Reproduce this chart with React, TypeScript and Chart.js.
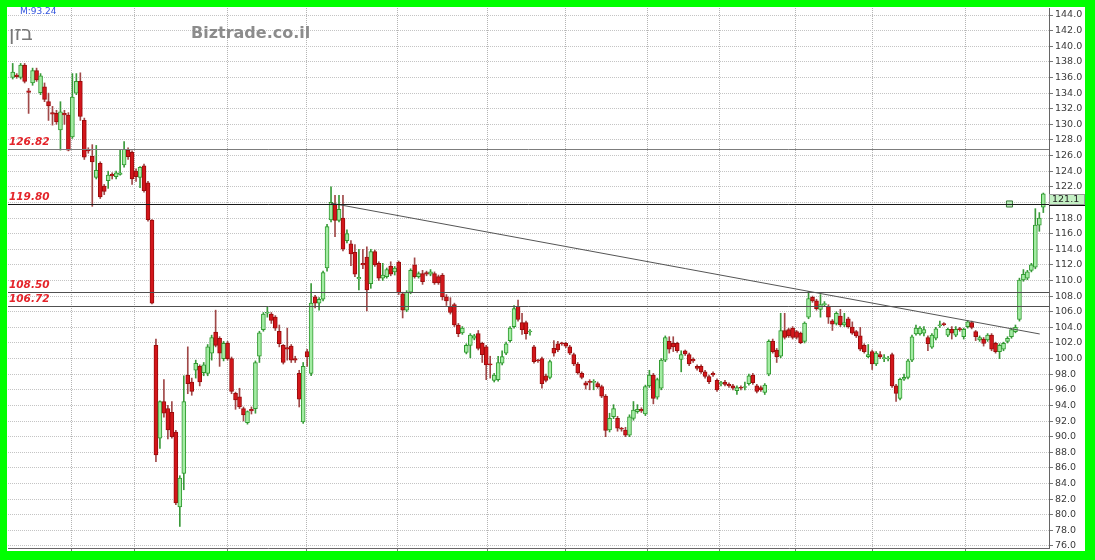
import React, { useEffect, useRef } from "react";
import { Chart, registerables } from "chart.js";
Chart.register(...registerables);

// ---- data (daily OHLC, oldest first) ----
const opens = [
  136.0,136.3,136.0,137.6,134.3,135.3,136.9,134.05,134.8,132.9,131.5,131.4,129.3,131.4,131.2,128.4,134.0,135.5,130.5,126.8,
  125.9,123.2,125.0,122.1,122.8,123.6,123.3,123.6,124.8,126.7,126.4,124.0,123.2,124.7,122.5,117.75,101.7,89.8,94.5,93.6,
  93.1,90.6,81.0,85.3,97.9,97.0,98.5,99.0,98.2,98.1,100.7,103.4,102.6,100.0,102.0,100.0,95.55,95.1,93.6,91.8,
  93.5,93.6,100.3,103.7,105.8,105.7,105.3,103.5,101.7,101.4,101.6,100.0,98.1,91.9,100.9,98.1,107.9,107.1,107.6,111.6,
  117.75,119.8,117.7,118.0,115.1,114.7,113.6,110.2,112.2,113.0,109.6,113.7,112.2,110.3,110.5,111.85,111.1,112.35,108.3,106.2,
  108.5,112.0,110.5,110.9,111.0,110.8,110.9,110.5,110.7,107.9,106.7,106.9,104.3,103.3,100.8,101.7,102.6,103.2,101.95,101.5,
  99.3,97.2,97.3,99.4,100.7,102.3,104.1,106.7,104.6,104.6,103.4,101.5,99.8,100.0,97.8,97.6,101.3,101.9,102.0,101.95,
  101.5,100.5,99.3,98.1,96.9,97.0,96.95,96.8,96.4,95.2,90.85,92.55,92.35,91.0,90.85,90.2,92.35,93.2,93.5,92.9,
  96.5,97.9,95.05,96.2,99.8,102.2,101.95,101.95,99.9,101.0,100.5,99.9,99.0,99.0,98.3,97.7,98.1,97.2,96.8,97.0,
  96.7,96.5,95.9,96.3,96.3,96.8,97.9,96.5,96.3,95.65,98.0,102.25,101.1,100.3,103.6,103.7,103.9,103.45,103.25,102.2,
  105.3,107.85,107.4,106.3,106.9,106.7,104.85,104.5,105.45,104.3,105.1,104.05,103.45,102.9,101.7,100.25,100.9,99.3,100.5,100.0,
  99.95,100.5,96.5,94.9,97.35,97.6,99.8,103.15,103.15,103.25,102.7,101.45,102.6,104.2,104.45,103.0,103.75,103.0,103.8,102.8,
  104.1,104.6,103.45,102.4,102.5,102.4,103.0,101.95,100.9,101.2,102.2,102.8,103.45,105.0,110.06,110.3,111.3,111.7,117.1,119.4
];
const highs = [
  137.8,136.5,137.8,137.8,134.6,137.2,137.2,136.5,135.3,134.0,132.3,131.8,132.9,131.8,131.5,136.5,136.5,136.6,130.8,127.0,
  127.4,127.3,125.2,122.3,124.0,123.8,124.0,126.7,127.8,127.0,126.6,124.3,124.6,124.9,122.7,117.8,102.5,94.6,97.3,94.0,
  94.5,90.8,85.0,97.8,101.5,97.5,99.8,99.2,99.5,101.8,103.0,106.2,102.8,102.2,102.2,100.2,95.7,96.2,93.8,93.3,
  93.8,99.7,103.5,105.9,106.6,105.9,105.5,104.3,101.8,103.9,101.8,100.3,98.5,99.5,101.2,109.6,108.1,107.8,111.2,117.2,
  122.0,120.9,120.9,120.9,116.5,115.1,114.6,114.0,114.0,114.3,114.0,113.9,112.4,112.2,111.6,112.4,111.8,112.5,108.5,108.7,
  111.5,112.9,111.1,111.3,111.2,111.4,111.1,110.7,110.9,108.2,107.8,107.1,104.5,104.1,101.9,103.2,103.1,103.6,102.1,101.7,
  100.3,98.1,100.3,101.0,102.1,104.1,106.8,107.5,105.8,104.8,103.7,101.7,99.9,100.2,98.0,99.8,102.3,102.2,102.1,102.1,
  101.7,100.7,99.5,98.3,97.1,97.3,97.3,97.0,96.6,95.4,93.0,94.1,92.6,91.2,91.2,92.8,94.5,94.1,93.7,96.6,
  98.5,98.1,97.5,100.0,102.9,102.8,102.8,102.1,101.0,101.1,100.7,100.1,99.2,99.2,98.5,97.9,98.3,97.4,97.1,97.2,
  96.9,96.7,96.5,96.5,97.0,98.0,98.1,96.7,96.5,96.8,102.4,102.5,101.3,105.8,105.8,103.9,104.1,103.6,103.4,104.7,
  108.6,108.0,107.6,108.2,107.3,106.9,105.0,106.0,106.3,105.8,105.3,104.7,103.6,104.0,101.9,101.8,101.1,100.9,100.9,100.5,
  100.3,100.7,96.7,97.5,98.0,99.9,103.0,104.3,104.1,104.1,102.9,103.2,104.0,104.8,104.6,103.9,104.1,104.1,104.0,103.9,
  104.9,104.8,103.6,102.9,102.7,103.2,103.2,102.1,101.9,102.1,102.8,103.9,104.3,110.3,111.4,111.3,112.2,119.2,118.7,121.2
];
const lows = [
  135.8,135.9,135.8,135.3,131.4,135.0,135.5,133.8,132.9,130.5,129.9,130.0,126.7,130.0,126.6,128.2,133.8,130.5,125.5,126.3,
  119.5,123.0,120.5,121.0,121.8,123.0,123.0,123.5,124.5,125.5,122.3,122.7,121.9,121.3,117.6,107.0,86.8,88.5,92.5,89.7,
  89.8,81.3,78.5,83.2,95.5,95.3,97.5,96.5,97.8,97.8,99.8,101.5,99.0,99.7,99.8,95.5,93.5,93.6,92.0,91.6,
  92.9,93.0,99.5,103.5,105.3,104.5,103.6,101.5,99.3,99.8,99.5,99.5,93.8,91.7,99.0,97.8,106.5,106.2,107.4,111.2,
  117.5,115.6,117.5,113.8,114.8,111.9,110.5,108.8,111.5,106.1,109.0,111.8,110.0,110.0,110.3,110.6,110.7,108.2,105.2,106.0,
  108.3,110.3,110.3,109.5,110.6,110.6,109.5,109.5,107.5,106.8,105.7,104.1,102.8,103.1,100.6,100.1,102.4,101.1,99.5,97.3,
  97.5,97.0,97.1,99.2,100.5,102.1,103.9,104.8,103.1,102.5,103.0,99.4,99.5,96.2,97.0,97.4,100.3,100.9,101.7,101.4,
  100.5,99.1,98.0,97.4,96.1,96.0,96.0,96.2,95.0,90.0,90.6,92.3,90.7,90.7,90.0,90.0,92.1,93.0,93.1,92.7,
  96.3,94.2,94.8,96.0,99.6,100.7,100.9,100.8,98.3,100.4,99.1,99.5,98.5,98.1,97.5,96.8,97.7,95.8,96.5,96.5,
  96.3,96.0,95.4,96.0,96.0,96.6,96.7,95.6,95.8,95.4,97.8,100.7,99.5,100.1,102.5,102.7,102.5,102.5,101.9,102.0,
  105.1,107.2,106.2,105.3,106.7,104.5,103.6,104.3,104.1,104.1,103.9,103.1,102.7,101.0,100.7,100.1,98.6,99.1,100.0,99.6,
  99.7,96.3,94.5,94.7,97.2,97.4,99.6,103.0,103.0,102.9,101.0,101.3,102.4,104.0,104.2,102.8,102.5,102.8,103.5,102.5,
  103.9,103.8,102.3,102.2,101.6,102.2,101.0,100.7,100.0,101.0,102.0,102.6,103.3,104.8,109.9,110.1,111.1,111.5,116.3,118.7
];
const closes = [
  136.7,136.1,137.6,135.5,134.1,136.9,135.7,136.2,133.2,132.35,131.3,130.3,131.6,131.2,126.7,133.5,135.5,131.0,125.8,126.6,
  125.2,124.1,120.7,121.4,123.5,123.4,123.8,123.8,126.8,125.85,123.0,123.3,124.5,121.5,117.8,107.1,87.65,94.5,93.0,90.85,
  90.0,81.5,84.7,94.5,96.8,95.8,99.4,97.0,99.2,101.5,102.7,101.7,100.7,101.95,100.0,95.8,94.7,93.8,92.8,93.2,
  93.3,99.5,103.3,105.7,105.9,104.9,103.9,101.9,99.5,101.2,99.8,99.8,94.8,99.0,100.2,107.1,107.1,107.6,111.0,116.9,
  120.0,117.7,119.1,114.0,116.0,113.4,110.8,110.4,112.0,108.8,113.7,112.0,110.3,110.7,111.4,110.8,111.6,108.4,106.2,108.5,
  111.3,110.5,110.9,109.85,110.8,111.1,109.7,109.7,107.9,107.4,105.9,104.3,103.2,103.9,101.7,103.0,102.9,101.3,100.5,99.2,
  99.2,97.9,99.5,100.25,101.9,103.9,106.4,105.0,103.7,103.2,103.4,99.6,99.7,96.8,97.2,99.6,100.7,101.1,101.9,101.6,
  100.7,99.3,98.2,97.6,96.6,96.95,97.0,96.4,95.2,90.8,92.35,93.6,91.1,90.95,90.2,92.55,93.4,93.5,93.3,96.4,
  97.9,94.9,97.3,99.8,102.7,101.2,101.5,101.0,100.5,100.6,99.3,99.7,98.75,98.3,97.7,97.05,97.9,96.0,96.8,96.7,
  96.5,96.2,96.3,96.2,96.3,97.8,96.9,95.8,96.0,96.6,102.2,100.9,100.2,103.6,102.7,102.9,102.7,102.7,102.05,104.55,
  107.7,107.4,106.4,106.9,107.0,105.3,104.4,105.8,104.3,104.6,104.1,103.25,102.9,101.2,100.9,100.5,99.3,100.7,100.2,100.05,
  100.0,96.5,95.55,97.35,97.6,99.7,102.8,103.9,103.9,103.7,101.9,103.0,103.8,104.3,104.35,103.75,103.25,103.75,103.7,103.75,
  104.7,104.0,102.8,102.7,101.95,103.0,101.2,100.9,101.7,101.95,102.6,103.7,104.0,110.06,110.8,111.1,112.0,117.1,118.0,121.1
];

// month boundaries (in trading-day index units)
const monthBounds = [14.9, 30.7, 54.1, 73.9, 96.8, 119.2, 139.0, 159.6, 177.7, 196.6, 216.1, 239.5];

// horizontal support / resistance levels
const levelValues = [126.82, 119.8, 108.5, 106.72];
const levelLabels = ["126.82", "119.80", "108.50", "106.72"];

// trend line (index, price)
const trendX = [80, 258.1];
const trendY = [119.9, 103.15];

// alert marker
const markerX = [250.5];
const markerY = [119.8];

const lastPrice = 121.1;
const lastPriceLabel = "121.1";
const yTicks: number[] = [];
for (let v = 76; v <= 144; v += 2) yTicks.push(v);

const symbolName = "בזן";
const siteName = "Biztrade.co.il";
const topNote = "M:93.24";

export default function App() {
  const ref = useRef<HTMLCanvasElement>(null);

  useEffect(() => {
    const canvas = ref.current;
    if (!canvas) return;
    const X_MIN = -1.18;
    const X_MAX = 260.43;
    const Y_MIN = 75.74;
    const Y_MAX = 144.9;

    const up = closes.map((c, i) => c >= opens[i]);
    const bodyFill = up.map((u) => (u ? "#a3eca3" : "#d3161b"));
    const bodyBorder = up.map((u) => (u ? "#2f9a2f" : "#9a0c0c"));
    const wickColor = up.map((u) => (u ? "#3a9a3a" : "#a04848"));
    const levelColors = ["#7c7c7c", "#1a1a1a", "#505050", "#505050"];

    const framePlugin = {
      id: "frame",
      beforeDraw(chart: any) {
        const ctx = chart.ctx;
        ctx.save();
        ctx.fillStyle = "#00ff00";
        ctx.fillRect(0, 0, chart.width, chart.height);
        ctx.fillStyle = "#ffffff";
        ctx.fillRect(7, 7, 1085 - 7, 551 - 7);
        ctx.restore();
      },
      afterDatasetsDraw(chart: any) {
        const ctx = chart.ctx;
        const ys = chart.scales.y;
        const area = chart.chartArea;
        ctx.save();
        ctx.lineWidth = 1;
        levelValues.forEach((v, i) => {
          const y = Math.round(ys.getPixelForValue(v)) + 0.5;
          ctx.strokeStyle = levelColors[i];
          ctx.beginPath();
          ctx.moveTo(area.left, y);
          ctx.lineTo(area.right, y);
          ctx.stroke();
        });
        ctx.restore();
      },
      afterDraw(chart: any) {
        const ctx = chart.ctx;
        const ys = chart.scales.y;
        const area = chart.chartArea;
        ctx.save();
        // level labels
        ctx.font = "italic bold 10.5px 'DejaVu Sans'";
        ctx.fillStyle = "#e4242a";
        ctx.textBaseline = "alphabetic";
        ctx.textAlign = "left";
        levelValues.forEach((v, i) => {
          const y = Math.round(ys.getPixelForValue(v));
          ctx.fillText(levelLabels[i], 9, y - 4);
        });
        // last price box
        const py = Math.round(ys.getPixelForValue(lastPrice));
        ctx.fillStyle = "#c4f0c4";
        ctx.fillRect(area.right, py, 1085 - area.right, 11);
        ctx.strokeStyle = "#9a9a9a";
        ctx.lineWidth = 1;
        ctx.strokeRect(area.right + 0.5, py + 0.5, 1085 - area.right - 1, 10);
        ctx.strokeStyle = "#111";
        ctx.beginPath();
        ctx.moveTo(area.right, py + 11.5);
        ctx.lineTo(1085, py + 11.5);
        ctx.stroke();
        ctx.fillStyle = "#222";
        ctx.font = "9.5px 'DejaVu Sans'";
        ctx.textBaseline = "middle";
        ctx.fillText(lastPriceLabel, area.right + 3, py + 6);
        // header texts
        ctx.beginPath();
        ctx.rect(7, 7, 1078, 544);
        ctx.clip();
        ctx.textBaseline = "alphabetic";
        ctx.font = "9px 'DejaVu Sans'";
        ctx.fillStyle = "#3355dd";
        ctx.fillText(topNote, 20, 14);
        ctx.font = "20px 'DejaVu Sans'";
        ctx.fillStyle = "#777777";
        ctx.fillText(symbolName, 9, 40);
        ctx.font = "bold 16px 'DejaVu Sans'";
        ctx.fillStyle = "#8c8c8c";
        ctx.fillText(siteName, 191, 38);
        ctx.restore();
      },
    };

    const chart = new Chart(canvas, {
      type: "bar",
      data: {
        datasets: [
          {
            type: "line",
            data: trendX.map((x, i) => ({ x, y: trendY[i] })),
            borderColor: "#555555",
            borderWidth: 1,
            pointRadius: 0,
          } as any,
          {
            type: "line",
            data: markerX.map((x, i) => ({ x, y: markerY[i] })),
            showLine: false,
            pointStyle: "rect",
            pointRadius: 4.3,
            backgroundColor: "#b8ecb8",
            borderColor: "#3a7a3a",
            borderWidth: 1,
          } as any,
          {
            type: "bar",
            data: opens.map((o, i) => ({ x: i, y: [o, closes[i]] })),
            backgroundColor: bodyFill,
            borderColor: bodyBorder,
            borderWidth: 1,
            borderSkipped: false,
            barThickness: 4,
            minBarLength: 1,
            grouped: false,
          } as any,
          {
            type: "bar",
            data: lows.map((l, i) => ({ x: i, y: [l, highs[i]] })),
            backgroundColor: wickColor,
            borderWidth: 0,
            barThickness: 1,
            minBarLength: 1,
            grouped: false,
          } as any,
        ],
      },
      options: {
        responsive: false,
        animation: false,
        devicePixelRatio: 1,
        layout: { padding: { left: 8, top: 8, right: 10, bottom: 9 } },
        plugins: { legend: { display: false }, tooltip: { enabled: false } },
        scales: {
          x: {
            type: "linear",
            min: X_MIN,
            max: X_MAX,
            offset: false,
            afterBuildTicks: (s: any) => {
              s.ticks = monthBounds.map((v) => ({ value: v }));
            },
            afterFit: (s: any) => {
              s.height = 3;
            },
            ticks: { display: false },
            grid: {
              offset: false,
              color: "#b4b4b4",
              tickLength: 3,
              tickColor: "#777",
            },
            border: { display: true, color: "#666666", width: 1, dash: [1, 1] },
          },
          y: {
            type: "linear",
            position: "right",
            min: Y_MIN,
            max: Y_MAX,
            afterBuildTicks: (s: any) => {
              s.ticks = yTicks.map((v) => ({ value: v }));
            },
            afterFit: (s: any) => {
              s.width = 36;
            },
            ticks: {
              autoSkip: false,
              padding: 2,
              color: "#3a3a3a",
              font: { family: "'DejaVu Sans'", size: 9.5 },
              callback: (v: any) => Number(v).toFixed(1),
            },
            grid: { color: "#c4c4c4", tickLength: 4, tickColor: "#777" },
            border: { display: true, color: "#666666", width: 1, dash: [1, 1] },
          },
        },
      } as any,
      plugins: [framePlugin],
    });
    return () => chart.destroy();
  }, []);

  return (
    <div style={{ position: "fixed", left: 0, top: 0, width: 1095, height: 560 }}>
      <canvas ref={ref} width={1095} height={560} style={{ display: "block", width: 1095, height: 560 }} />
    </div>
  );
}
